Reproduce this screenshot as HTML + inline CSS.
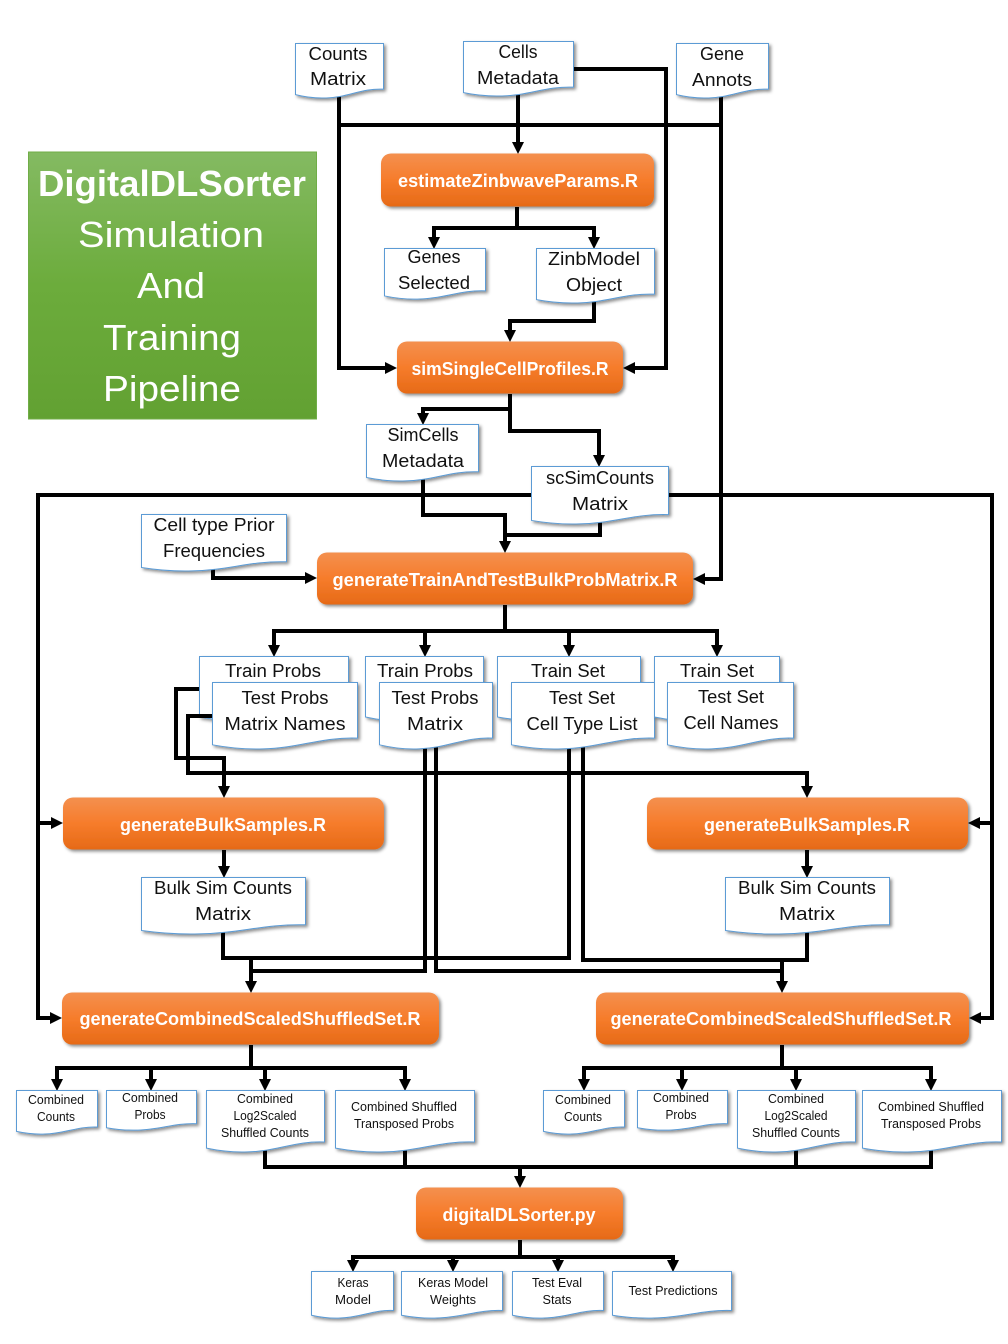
<!DOCTYPE html>
<html>
<head>
<meta charset="utf-8">
<style>
html,body{margin:0;padding:0;background:#fff}
svg{display:block}
symbol{overflow:visible}
text{font-family:"Liberation Sans",sans-serif;text-anchor:middle;fill:#111;font-size:18px}
.s{font-size:12.5px}
.b{font-weight:bold;fill:#fff;font-size:18px}
.t{fill:#fff;font-size:36px}
.c{fill:none;stroke:#000;stroke-width:4}
.p{fill:url(#og);filter:url(#sh);transform:translate(0,-.5px)}
.d{fill:#fff;stroke:#5b9bd5;filter:url(#sh);transform:translate(-.5px,-.5px)}
</style>
</head>
<body>
<svg xmlns="http://www.w3.org/2000/svg" width="1008" height="1344" viewBox="0 0 1008 1344">
<defs>
<linearGradient id="og" x1="0" y1="0" x2="0" y2="1">
<stop offset="0" stop-color="#f4904f"/><stop offset=".5" stop-color="#f67c2b"/><stop offset="1" stop-color="#e66a17"/>
</linearGradient>
<linearGradient id="gg" x1="0" y1="0" x2="0" y2="1">
<stop offset="0" stop-color="#84ba62"/><stop offset=".5" stop-color="#6cac3c"/><stop offset="1" stop-color="#62a132"/>
</linearGradient>
<filter id="sh" x="-10%" y="-10%" width="125%" height="130%">
<feDropShadow dx="2" dy="2" stdDeviation="1.5" flood-color="#000" flood-opacity=".45"/>
</filter>
<symbol id="doc" viewBox="0 0 100 100" preserveAspectRatio="none">
<path vector-effect="non-scaling-stroke" d="M0 0H100V83C75 81 60 98 35 99C22 100 10 97 0 93Z"/>
</symbol>
<polygon id="ad" points="-6,-12 6,-12 0,0"/>
<polygon id="ar" points="-12,-6 -12,6 0,0"/>
<polygon id="al" points="12,-6 12,6 0,0"/>
</defs>

<rect x="28.5" y="152" width="288" height="267" fill="url(#gg)" stroke="#70ad47"/>
<text class="t" x="172" y="196" font-weight="bold" textLength="268" lengthAdjust="spacingAndGlyphs">DigitalDLSorter</text>
<text class="t" x="171" y="247" textLength="186" lengthAdjust="spacingAndGlyphs">Simulation</text>
<text class="t" x="171" y="298" textLength="68" lengthAdjust="spacingAndGlyphs">And</text>
<text class="t" x="172" y="350" textLength="138" lengthAdjust="spacingAndGlyphs">Training</text>
<text class="t" x="172" y="401" textLength="138" lengthAdjust="spacingAndGlyphs">Pipeline</text>

<!-- connectors -->
<path class="c" d="M339 95V368H386M339 125H721M518 90V143M574 69H666V368H635M721 95V579H705"/>
<use href="#ad" x="518" y="154"/><use href="#ar" x="397" y="368"/><use href="#al" x="623" y="368"/><use href="#al" x="693" y="579"/>
<path class="c" d="M517 207V228M434 238V228H594V238"/>
<use href="#ad" x="434" y="249"/><use href="#ad" x="594" y="249"/>
<path class="c" d="M594 298V321H510V331"/>
<use href="#ad" x="510" y="342"/>
<path class="c" d="M510 394V431H599V456M510 409H423V415"/>
<use href="#ad" x="423" y="425"/><use href="#ad" x="599" y="467"/>
<path class="c" d="M423 475V515H505V542M600 518V535H505"/>
<use href="#ad" x="505" y="553"/>
<path class="c" d="M532 495H38V1018H51M38 823H52M669 495H992V1018H981M992 823H980"/>
<use href="#ar" x="63" y="823"/><use href="#ar" x="62" y="1018"/><use href="#al" x="968" y="823"/><use href="#al" x="969" y="1018"/>
<path class="c" d="M213 565V578H306"/>
<use href="#ar" x="317" y="578"/>
<path class="c" d="M505 605V631M274 646V631H717V646M425 631V646M569 631V646"/>
<use href="#ad" x="274" y="657"/><use href="#ad" x="425" y="657"/><use href="#ad" x="569" y="657"/><use href="#ad" x="717" y="657"/>
<path class="c" d="M224 787V758H176V689H200M188 716V773H807V787"/>
<use href="#ad" x="224" y="798"/><use href="#ad" x="807" y="798"/>
<path class="c" d="M224 850V867M807 850V867"/>
<use href="#ad" x="224" y="878"/><use href="#ad" x="807" y="878"/>
<path class="c" d="M223 928V958H569V745M425 745V971H251M251 956V982M436 745V971H782M583 745V960H782M807 930V960H782M782 958V982"/>
<use href="#ad" x="251" y="993"/><use href="#ad" x="782" y="993"/>
<path class="c" d="M251 1045V1068M57 1080V1068H405V1080M151 1068V1080M265 1068V1080"/>
<use href="#ad" x="57" y="1091"/><use href="#ad" x="151" y="1091"/><use href="#ad" x="265" y="1091"/><use href="#ad" x="405" y="1091"/>
<path class="c" d="M782 1045V1068M584 1080V1068H931V1080M682 1068V1080M796 1068V1080"/>
<use href="#ad" x="584" y="1091"/><use href="#ad" x="682" y="1091"/><use href="#ad" x="796" y="1091"/><use href="#ad" x="931" y="1091"/>
<path class="c" d="M265 1148V1167H931V1148M405 1148V1167M796 1148V1167M520 1167V1177"/>
<use href="#ad" x="520" y="1188"/>
<path class="c" d="M520 1240V1257" stroke-width="5"/>
<path class="c" d="M353 1262V1257H673V1262M453 1257V1262M558 1257V1262"/>
<use href="#ad" x="353" y="1272"/><use href="#ad" x="453" y="1272"/><use href="#ad" x="558" y="1272"/><use href="#ad" x="673" y="1272"/>

<!-- process boxes -->
<rect class="p" x="381" y="154" width="273" height="53" rx="10"/>
<text class="b" x="518" y="187" textLength="240" lengthAdjust="spacingAndGlyphs">estimateZinbwaveParams.R</text>
<rect class="p" x="397" y="342" width="226" height="52" rx="10"/>
<text class="b" x="510" y="375" textLength="197" lengthAdjust="spacingAndGlyphs">simSingleCellProfiles.R</text>
<rect class="p" x="317" y="553" width="376" height="52" rx="10"/>
<text class="b" x="505" y="586" textLength="345" lengthAdjust="spacingAndGlyphs">generateTrainAndTestBulkProbMatrix.R</text>
<rect class="p" x="63" y="798" width="321" height="52" rx="10"/>
<text class="b" x="223" y="831" textLength="206" lengthAdjust="spacingAndGlyphs">generateBulkSamples.R</text>
<rect class="p" x="647" y="798" width="321" height="52" rx="10"/>
<text class="b" x="807" y="831" textLength="206" lengthAdjust="spacingAndGlyphs">generateBulkSamples.R</text>
<rect class="p" x="62" y="993" width="377" height="52" rx="10"/>
<text class="b" x="250" y="1025" textLength="341" lengthAdjust="spacingAndGlyphs">generateCombinedScaledShuffledSet.R</text>
<rect class="p" x="596" y="993" width="373" height="52" rx="10"/>
<text class="b" x="781" y="1025" textLength="341" lengthAdjust="spacingAndGlyphs">generateCombinedScaledShuffledSet.R</text>
<rect class="p" x="416" y="1188" width="207" height="52" rx="10"/>
<text class="b" x="519" y="1221" textLength="153" lengthAdjust="spacingAndGlyphs">digitalDLSorter.py</text>

<!-- documents -->
<use class="d" href="#doc" x="296" y="44" width="88" height="55"/>
<text x="338" y="60" textLength="59" lengthAdjust="spacingAndGlyphs">Counts</text>
<text x="338" y="85" textLength="56" lengthAdjust="spacingAndGlyphs">Matrix</text>
<use class="d" href="#doc" x="464" y="42" width="110" height="55"/>
<text x="518" y="58" textLength="39" lengthAdjust="spacingAndGlyphs">Cells</text>
<text x="518" y="84" textLength="82" lengthAdjust="spacingAndGlyphs">Metadata</text>
<use class="d" href="#doc" x="677" y="44" width="92" height="55"/>
<text x="722" y="60" textLength="44" lengthAdjust="spacingAndGlyphs">Gene</text>
<text x="722" y="86" textLength="60" lengthAdjust="spacingAndGlyphs">Annots</text>
<use class="d" href="#doc" x="385" y="249" width="101" height="51"/>
<text x="434" y="263" textLength="53" lengthAdjust="spacingAndGlyphs">Genes</text>
<text x="434" y="289" textLength="72" lengthAdjust="spacingAndGlyphs">Selected</text>
<use class="d" href="#doc" x="537" y="249" width="118" height="55"/>
<text x="594" y="265" textLength="92" lengthAdjust="spacingAndGlyphs">ZinbModel</text>
<text x="594" y="291" textLength="56" lengthAdjust="spacingAndGlyphs">Object</text>
<use class="d" href="#doc" x="367" y="425" width="112" height="57"/>
<text x="423" y="441" textLength="71" lengthAdjust="spacingAndGlyphs">SimCells</text>
<text x="423" y="467" textLength="82" lengthAdjust="spacingAndGlyphs">Metadata</text>
<use class="d" href="#doc" x="532" y="467" width="137" height="58"/>
<text x="600" y="484" textLength="108" lengthAdjust="spacingAndGlyphs">scSimCounts</text>
<text x="600" y="510" textLength="56" lengthAdjust="spacingAndGlyphs">Matrix</text>
<use class="d" href="#doc" x="142" y="515" width="145" height="57"/>
<text x="214" y="531" textLength="121" lengthAdjust="spacingAndGlyphs">Cell type Prior</text>
<text x="214" y="557" textLength="102" lengthAdjust="spacingAndGlyphs">Frequencies</text>

<use class="d" href="#doc" x="200" y="657" width="149" height="65"/>
<text x="273" y="677" textLength="96" lengthAdjust="spacingAndGlyphs">Train Probs</text>
<path class="c" d="M186 716H213"/>
<use class="d" href="#doc" x="213" y="683" width="145" height="67"/>
<text x="285" y="704" textLength="87" lengthAdjust="spacingAndGlyphs">Test Probs</text>
<text x="285" y="730" textLength="121" lengthAdjust="spacingAndGlyphs">Matrix Names</text>
<use class="d" href="#doc" x="366" y="657" width="118" height="65"/>
<text x="425" y="677" textLength="96" lengthAdjust="spacingAndGlyphs">Train Probs</text>
<use class="d" href="#doc" x="380" y="683" width="113" height="67"/>
<text x="435" y="704" textLength="87" lengthAdjust="spacingAndGlyphs">Test Probs</text>
<text x="435" y="730" textLength="56" lengthAdjust="spacingAndGlyphs">Matrix</text>
<use class="d" href="#doc" x="498" y="657" width="143" height="65"/>
<text x="568" y="677" textLength="74" lengthAdjust="spacingAndGlyphs">Train Set</text>
<use class="d" href="#doc" x="512" y="683" width="143" height="67"/>
<text x="582" y="704" textLength="66" lengthAdjust="spacingAndGlyphs">Test Set</text>
<text x="582" y="730" textLength="111" lengthAdjust="spacingAndGlyphs">Cell Type List</text>
<use class="d" href="#doc" x="655" y="657" width="125" height="65"/>
<text x="717" y="677" textLength="74" lengthAdjust="spacingAndGlyphs">Train Set</text>
<use class="d" href="#doc" x="668" y="683" width="126" height="67"/>
<text x="731" y="703" textLength="66" lengthAdjust="spacingAndGlyphs">Test Set</text>
<text x="731" y="729" textLength="95" lengthAdjust="spacingAndGlyphs">Cell Names</text>

<use class="d" href="#doc" x="142" y="878" width="164" height="57"/>
<text x="223" y="894" textLength="138" lengthAdjust="spacingAndGlyphs">Bulk Sim Counts</text>
<text x="223" y="920" textLength="56" lengthAdjust="spacingAndGlyphs">Matrix</text>
<use class="d" href="#doc" x="726" y="878" width="164" height="57"/>
<text x="807" y="894" textLength="138" lengthAdjust="spacingAndGlyphs">Bulk Sim Counts</text>
<text x="807" y="920" textLength="56" lengthAdjust="spacingAndGlyphs">Matrix</text>

<use class="d" href="#doc" x="17" y="1091" width="81" height="44"/>
<text class="s" x="56" y="1104" textLength="56" lengthAdjust="spacingAndGlyphs">Combined</text>
<text class="s" x="56" y="1121" textLength="38" lengthAdjust="spacingAndGlyphs">Counts</text>
<use class="d" href="#doc" x="107" y="1091" width="90" height="40"/>
<text class="s" x="150" y="1102" textLength="56" lengthAdjust="spacingAndGlyphs">Combined</text>
<text class="s" x="150" y="1119" textLength="31" lengthAdjust="spacingAndGlyphs">Probs</text>
<use class="d" href="#doc" x="207" y="1091" width="118" height="62"/>
<text class="s" x="265" y="1103" textLength="56" lengthAdjust="spacingAndGlyphs">Combined</text>
<text class="s" x="265" y="1120" textLength="63" lengthAdjust="spacingAndGlyphs">Log2Scaled</text>
<text class="s" x="265" y="1137" textLength="88" lengthAdjust="spacingAndGlyphs">Shuffled Counts</text>
<use class="d" href="#doc" x="336" y="1091" width="139" height="62"/>
<text class="s" x="404" y="1111" textLength="106" lengthAdjust="spacingAndGlyphs">Combined Shuffled</text>
<text class="s" x="404" y="1128" textLength="100" lengthAdjust="spacingAndGlyphs">Transposed Probs</text>

<use class="d" href="#doc" x="544" y="1091" width="81" height="44"/>
<text class="s" x="583" y="1104" textLength="56" lengthAdjust="spacingAndGlyphs">Combined</text>
<text class="s" x="583" y="1121" textLength="38" lengthAdjust="spacingAndGlyphs">Counts</text>
<use class="d" href="#doc" x="638" y="1091" width="90" height="40"/>
<text class="s" x="681" y="1102" textLength="56" lengthAdjust="spacingAndGlyphs">Combined</text>
<text class="s" x="681" y="1119" textLength="31" lengthAdjust="spacingAndGlyphs">Probs</text>
<use class="d" href="#doc" x="738" y="1091" width="118" height="62"/>
<text class="s" x="796" y="1103" textLength="56" lengthAdjust="spacingAndGlyphs">Combined</text>
<text class="s" x="796" y="1120" textLength="63" lengthAdjust="spacingAndGlyphs">Log2Scaled</text>
<text class="s" x="796" y="1137" textLength="88" lengthAdjust="spacingAndGlyphs">Shuffled Counts</text>
<use class="d" href="#doc" x="863" y="1091" width="139" height="62"/>
<text class="s" x="931" y="1111" textLength="106" lengthAdjust="spacingAndGlyphs">Combined Shuffled</text>
<text class="s" x="931" y="1128" textLength="100" lengthAdjust="spacingAndGlyphs">Transposed Probs</text>

<use class="d" href="#doc" x="312" y="1272" width="82" height="47"/>
<text class="s" x="353" y="1287" textLength="31" lengthAdjust="spacingAndGlyphs">Keras</text>
<text class="s" x="353" y="1304" textLength="36" lengthAdjust="spacingAndGlyphs">Model</text>
<use class="d" href="#doc" x="402" y="1272" width="101" height="47"/>
<text class="s" x="453" y="1287" textLength="70" lengthAdjust="spacingAndGlyphs">Keras Model</text>
<text class="s" x="453" y="1304" textLength="46" lengthAdjust="spacingAndGlyphs">Weights</text>
<use class="d" href="#doc" x="513" y="1272" width="91" height="47"/>
<text class="s" x="557" y="1287" textLength="50" lengthAdjust="spacingAndGlyphs">Test Eval</text>
<text class="s" x="557" y="1304" textLength="29" lengthAdjust="spacingAndGlyphs">Stats</text>
<use class="d" href="#doc" x="613" y="1272" width="119" height="47"/>
<text class="s" x="673" y="1295" textLength="89" lengthAdjust="spacingAndGlyphs">Test Predictions</text>
</svg>
</body>
</html>
